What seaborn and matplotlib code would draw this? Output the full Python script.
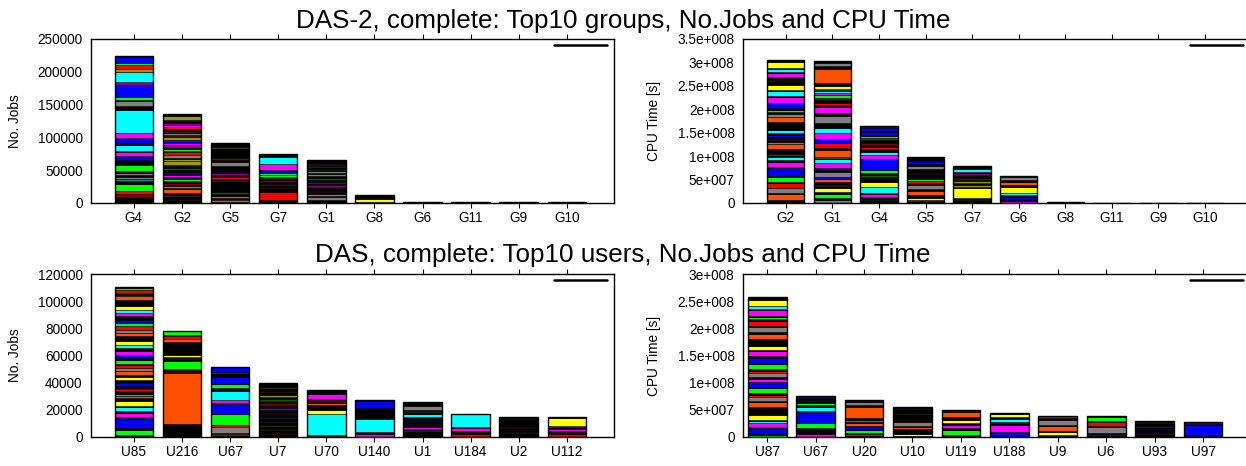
import matplotlib
matplotlib.use("Agg")
import pandas as pd
import matplotlib.pyplot as plt
import seaborn as sns
from matplotlib.lines import Line2D
from matplotlib.ticker import FuncFormatter, MultipleLocator

# colour codes used in the segment strings below
palette = {
    "k": "#000000", "r": "#ff0000", "g": "#00ff00", "b": "#0000ff",
    "m": "#ff00ff", "c": "#00ffff", "y": "#ffff00", "o": "#ff5000",
    "s": "#808080", "l": "#9a9a00", "n": "#8b0000", "d": "#006400",
    "p": "#8b008b", "t": "#008b8b",
}

# ---- DAS-2 groups: No. jobs (thousands), stacked segments bottom -> top
groups_jobs_names = ["G4", "G2", "G5", "G7", "G1", "G8", "G6", "G11", "G9", "G10"]
groups_jobs_segs = [
    "k9 n4 r5 g11 k4 t3 s3 k3 s4 k3 g9 k7 b7 m5 k3 c8 k2 r2 b7 m7 c36 k6 s7 k2 g5 b18 p4 c16 l5 r5 g4 b9 k1",
    "k4 n1.6 k5 l1.5 k3.1 o6 k1.6 s2.5 k2.6 n3 k2.1 g3 k1.1 c1.5 k1.5 m2.5 k1.6 b2.5 k3 d3 k2 b2 k1.7 "
    "l5 k1.2 l3 k1 s4 k1.1 r4 k1.1 g4 k1.1 p5 m2.6 b2.5 c2 k.6 l4 k1.1 o2.5 s2.5 k1 o1.6 n2.5 k1.5 "
    "r2.5 m2.5 k1.2 p2.5 k2.5 b2.6 l5.1 k3.6",
    "s2 o2 s2 k2 o2 k4 d3 k16 o2 k2 r2 m2 k2 p2 b2 k9 s6 k4 n2 k16 y1.5 k5.5",
    "n2 k2 r13 k6 n2 k3 o1.5 k3 n2 k2 r2 o1.5 g2 k1 g2 m1 b3 p1 m10 c10 k5",
    "k5 s4 k1 s4 k3 n2 k6 p2 k3 c1.5 k4 d2 k4 s2 k2 s3 k2 d2 k2 m2 k1 r1.5 k7",
    "k2 y4 k1 y1 k4",
    "k.8 s.8",
    "k1",
    "k.9",
    "k.9",
]

# ---- DAS-2 groups: CPU time (1e7 s)
groups_cpu_names = ["G2", "G1", "G4", "G5", "G7", "G6", "G8", "G11", "G9", "G10"]
groups_cpu_segs = [
    "k.7 o1.2 k.2 s1 k.2 r1 k.2 g1.1 k.1 b1.7 k.3 m1.1 k.3 c.8 k.3 y.2 k1.2 o1 s.4 k.4 r.3 k.3 b.5 k.4 "
    "c.7 k.3 y.2 k1.2 o1.1 s.6 k.5 g.4 k.3 b1.2 m1.2 k.3 c1 k.2 y1.1 k.8 n.3 k.5 m.9 k.2 c.7 k.2 y1.2 k.6",
    "s.7 k.4 g.9 k.4 y.7 k.5 s.3 k.6 o.7 b.4 s1 k.4 b.4 m1.1 c.9 k.3 y.2 o1.4 k.4 r1.1 b.8 m1.3 c1.2 "
    "k.9 s1.6 k.6 m1.2 k.6 r.4 k.5 n.5 g.7 m.4 c.4 k.2 c.3 y.6 k.7 o2.9 k.7 s.5 k.5",
    "c.3 k.3 d.3 k.4 m.6 k.2 c1.3 y1.1 k1.1 d.3 k.4 g.8 b2.2 m.9 c.7 k.6 r.5 k.4 n.3 k.8 d.4 g.3 k.4 b.5 k.3 b.4 t.3 b.3",
    "k.4 s.3 y.3 k.8 o.7 k.4 s.9 k.3 n.2 r.5 g.4 k.2 b.2 k.6 n.3 k.8 s.7 k.4 b.5 k.95",
    "k.6 d.3 k.2 y2 k.4 l.3 k.4 l.4 k.4 n.3 k.7 p.3 k.4 c.5 k.8",
    "m.35 k.6 b.3 k.4 c.4 y1.3 k.4 o.7 k.5 s.5 k.3",
    "k.15",
    "d.1",
    "k.1",
    "k.1",
]

# ---- DAS users: No. jobs (thousands)
users_jobs_names = ["U85", "U216", "U67", "U7", "U70", "U140", "U1", "U184", "U2", "U112"]
users_jobs_segs = [
    "g.5 k1.2 g3.7 k1.2 b6.9 k1 m3.2 k1.2 c2.9 k.8 y3.7 k2.4 o1.7 s1.5 k1.7 r1.7 t1 k1 b2.5 k2.4 y1.7 k2 "
    "o2.4 s2.5 r2 k1.2 g2.4 k1.8 b2.4 m3 k1.9 c2.5 y2.4 k3.7 o2.5 s2.4 r2.5 g2.4 b2.5 k2.4 m2.5 c2.4 y3 "
    "k4.4 o2.5 s1.2 k1.2 r2.5 g1.2 k.7",
    "k9.4 o37.7 k.6 r.8 k.6 n.5 k.6 g5.4 k1.5 p1 b.7 y1.7 k9.3 o2 r2.2 k1.2 g2.6",
    "c.8 k.5 y.6 k.5 o.9 s3.7 r1.7 g8.1 k.5 b7 k.4 m2.5 c6.6 k2 g2.9 k.4 b5.3 k2.4 g1.2 b3.2",
    "k2 n1 k2 d1 k2 l1 k2 p1 k2 t1 k2 n1 k2 p1 b.8 k2 n1 k2 d1 k2 l1 k2 n1 k2 l1 k3",
    "k.6 d.6 k.5 c15.2 y3.2 k3.7 o1.2 k1 r.7 s.6 k.6 m3.7 k1.9 n.5 k.8",
    "m2.3 k.3 s.5 k.6 c9.8 k7.8 b5 k1.2",
    "k4.2 g.6 t.6 k.8 m.9 p.8 k1 b.6 k1.2 b.6 k1.2 b.8 k1.2 c2.5 k1.2 s.8 k1.2 s2.9 k2.7",
    "r2.5 k1.7 m2.4 k.8 c9.8",
    "k3 d.5 k3 n.5 k3 p.5 k3 d.5 k.7",
    "r2.5 k.8 r.5 k.4 m1.9 k1.2 l.6 y6.1 k.5",
]

# ---- DAS users: CPU time (1e7 s)
users_cpu_names = ["U87", "U67", "U20", "U10", "U119", "U188", "U9", "U6", "U93", "U97"]
users_cpu_segs = [
    "g.3 k.25 b1 k.25 m.8 c.4 k.2 y.9 k1.4 o1 k.2 s.7 r.4 k.3 g.9 k.2 b.9 m.5 k.4 s.8 r.4 k.3 g.9 k.3 "
    "b.9 k.3 m.9 k.3 y.6 k1.4 o.9 k.3 s.9 k.3 r.9 k.3 g.3 k.3 m1 k.3 c.6 y1 k.6",
    "m.55 k.8 n.2 k.1 g.95 b1.8 p.2 m.2 c.8 k.3 g.35 k.3 b.35 k.3 b.3",
    "n.2 r.3 k.2 g.5 k.2 b.5 k.2 o.4 k.3 t.3 k.4 o2.1 k.2 s.6 k.2 n.3",
    "k.2 y.4 k.8 o.4 k.3 s.6 k1.6 d.2 k.6 b.2 k.2",
    "n.2 k.2 g.9 k.4 m.45 k.5 y.5 k.5 o.9 k.2 n.25",
    "b.7 k.3 m1.3 k.3 t.2 c.6 k.2 y.6 k.2",
    "t.25 k.2 y.4 k.3 o.8 k.3 s.9 k.3 r.35 k.1",
    "k.1 b.5 k.2 s1 k.2 r.7 k.2 g.7 k.2",
    "k.5 p.2 k.5 b.2 k.4 t.2 k.6 n.1 k.3",
    "k.1 b2.15 k.1 p.2 s.2",
]

W, H = 1246, 466
FS = 9.8


def gnuplot_fmt(v, _):
    if v == 0:
        return "0"
    mant, exp = f"{v:g}".split("e")
    return f"{mant}e{exp[0]}{int(exp[1:]):03d}"


def segments_frame(names, segs, scale):
    rows = []
    for i, (name, s) in enumerate(zip(names, segs)):
        base = 0.0
        for tok in s.split():
            v = float(tok[1:]) * scale
            rows.append((i, name, tok[0], v, base))
            base += v
    return pd.DataFrame(rows, columns=["pos", "name", "code", "value", "bottom"])


def draw_panel(box, names, segs, scale, ymax, ystep, xlim, ylabel, sci, ylab_x):
    l, r, t, b = box
    ax = fig.add_axes([l / W, 1 - b / H, (r - l) / W, (b - t) / H])
    df = segments_frame(names, segs, scale)
    ax.bar(df["pos"], df["value"], bottom=df["bottom"], width=0.8,
           color=df["code"].map(palette), edgecolor="black", linewidth=0.45)
    totals = df.groupby("name", sort=False)["value"].sum().reset_index()
    sns.barplot(data=totals, x="name", y="value", order=names, ax=ax,
                fill=False, edgecolor="black", linewidth=1.0, width=0.8, errorbar=None)
    ax.set_xlim(*xlim)
    ax.set_ylim(0, ymax)
    ax.yaxis.set_major_locator(MultipleLocator(ystep))
    if sci:
        ax.yaxis.set_major_formatter(FuncFormatter(gnuplot_fmt))
    else:
        ax.yaxis.set_major_formatter(FuncFormatter(lambda v, _: f"{int(v)}"))
    ax.set_xlabel("")
    ax.set_ylabel(ylabel, fontsize=FS)
    ax.yaxis.set_label_coords(ylab_x, 0.5)
    ax.tick_params(axis="x", direction="out", length=3.4, width=0.8, top=True, bottom=True,
                   labelsize=FS, pad=2.5, colors="black")
    ax.tick_params(axis="y", length=0, labelsize=FS, pad=6, colors="black")
    for sp in ax.spines.values():
        sp.set_visible(True)
        sp.set_color("black")
        sp.set_linewidth(1.0)
    ax.legend(handles=[Line2D([], [], color="black", lw=1.8)], labels=[""],
              loc="upper right", frameon=False, handlelength=3.9, handletextpad=0.5,
              borderaxespad=0, borderpad=0, fontsize=FS)
    return ax


sns.set_style("white")
plt.rcParams["font.family"] = ["Liberation Sans", "DejaVu Sans"]
plt.rcParams["text.color"] = "black"
plt.rcParams["axes.labelcolor"] = "black"

fig = plt.figure(figsize=(W / 100, H / 100), dpi=100)

draw_panel((91, 614, 39, 203), groups_jobs_names, groups_jobs_segs, 1e3,
           250000, 50000, (-0.89, 9.98), "No. Jobs", False, -0.132)
draw_panel((743, 1250, 39, 203), groups_cpu_names, groups_cpu_segs, 1e7,
           3.5e8, 5e7, (-0.92, 9.97), "CPU Time [s]", True, -0.162)
draw_panel((91, 614, 274, 437), users_jobs_names, users_jobs_segs, 1e3,
           120000, 20000, (-0.89, 9.98), "No. Jobs", False, -0.132)
draw_panel((743, 1250, 274, 437), users_cpu_names, users_cpu_segs, 1e7,
           3e8, 5e7, (-0.5, 9.97), "CPU Time [s]", True, -0.162)

fig.text(0.5, 1 - 21 / H, "DAS-2, complete: Top10 groups, No.Jobs and CPU Time",
         ha="center", va="center", fontsize=18.7)
fig.text(0.5, 1 - 255 / H, "DAS, complete: Top10 users, No.Jobs and CPU Time",
         ha="center", va="center", fontsize=18.7)

fig.savefig("out.png", dpi=100)
